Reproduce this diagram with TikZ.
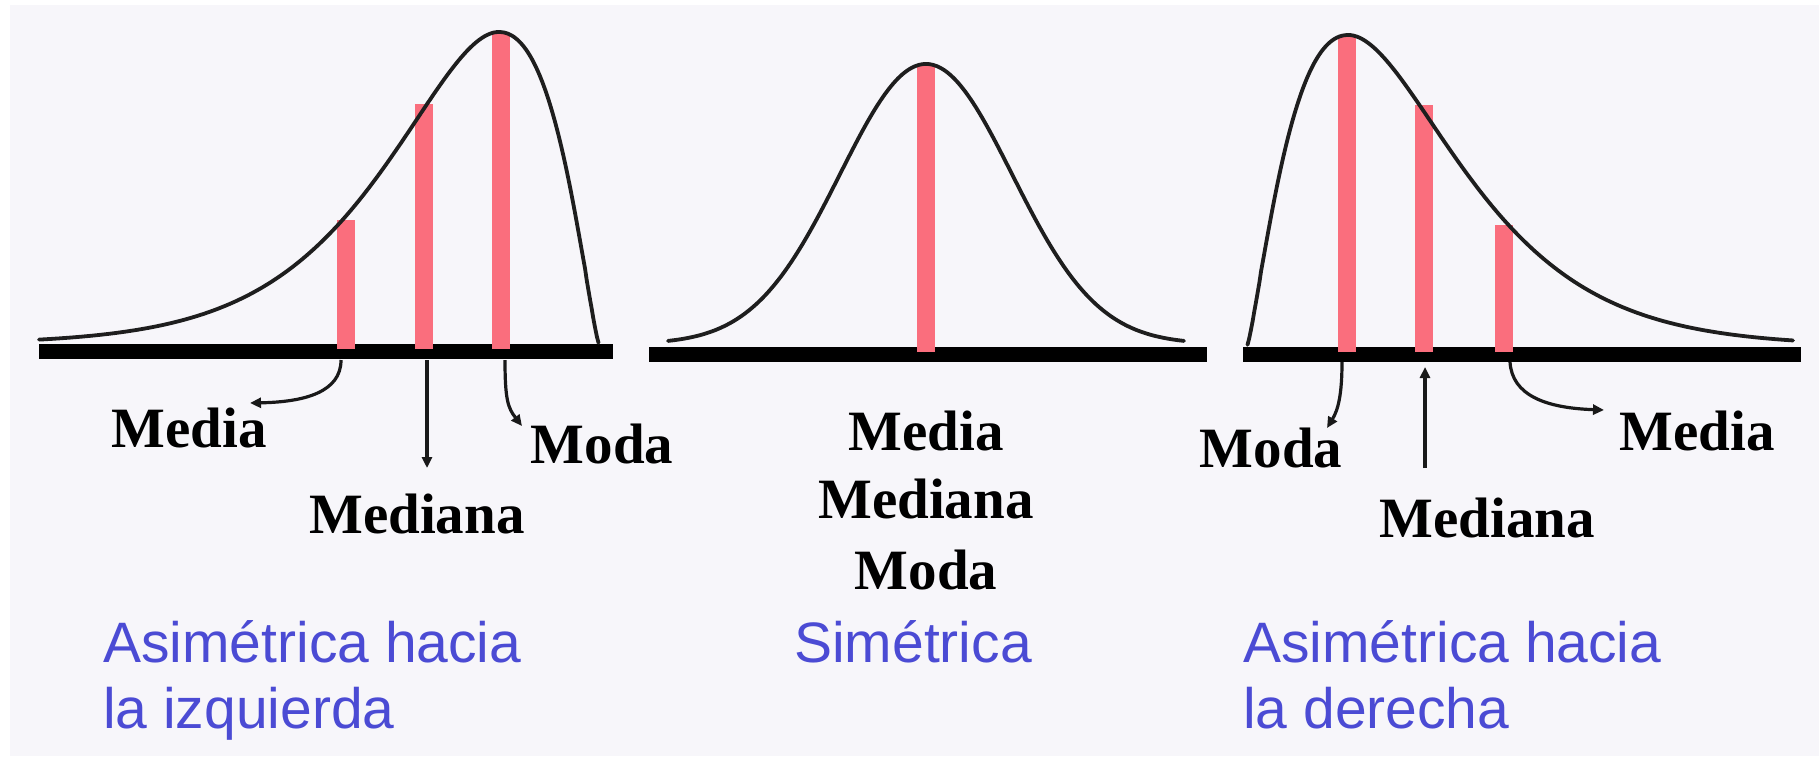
\documentclass[tikz,border=0pt]{standalone}
\usepackage{fontspec}
\setmainfont{Liberation Serif}
\newfontfamily\sansblue{Liberation Sans}
\usetikzlibrary{arrows.meta}
\definecolor{bg}{RGB}{247,246,250}
\definecolor{barred}{RGB}{250,110,125}
\definecolor{tblue}{RGB}{75,75,212}
\definecolor{curvec}{RGB}{30,30,30}
\tikzset{
  axisline/.style={line width=15pt, black},
  bar/.style={line width=18pt, barred},
  curve/.style={line width=3.8pt, curvec, line join=round, line cap=round},
  ptr/.style={line width=3.2pt, black!90, -{Triangle[length=11pt,width=10pt]}},
  lbl/.style={font=\fontsize{57}{69}\selectfont\bfseries, inner sep=0pt, anchor=base},
  title/.style={font=\fontsize{57}{66}\selectfont\sansblue, text=tblue, inner sep=0pt, anchor=base west},
}
\begin{document}
\begin{tikzpicture}[x=1pt,y=-1pt]
\useasboundingbox (0,0) rectangle (1819,756);
\fill[white] (0,0) rectangle (1819,756);
\fill[bg] (10,5) rectangle (1819,756);

% ---------- left panel ----------
\draw[axisline] (39,351) -- (613,351);
\draw[bar] (346,349) -- (346,220);
\draw[bar] (424,349) -- (424,104);
\draw[bar] (501,349) -- (501,33);
\draw[curve]
  plot[domain=0.5:100, samples=60] ({599-\x},{344-312*exp(1.3*(ln(\x/100)-\x/100+1))})
  -- plot[domain=100:560, samples=160] ({599-\x},{344-312*exp(1.48*(ln(\x/100)-\x/100+1))});

\node[lbl] (lMedia) at (189,447) {Media};
\node[lbl] (lMediana) at (417,533) {Mediana};
\node[lbl] (lModa) at (602,463) {Moda};
\coordinate (lMediaS) at (341,360);
\coordinate (lMediaT) at (250,403);
\coordinate (lMedianaS) at (427,360);
\coordinate (lMedianaT) at (427,468);
\coordinate (lModaS) at (505,360);
\coordinate (lModaT) at (522,426);
\draw[ptr] (lMediaS) .. controls (341,392) and (305,402) .. (lMediaT);
\draw[ptr] (lMedianaS) -- (lMedianaT);
\draw[ptr] (lModaS) .. controls (505,400) and (508,408) .. (lModaT);

\node[title] (lTitle1) at (103,662) {Asimétrica hacia};
\node[title] (lTitle2) at (103,728) {la izquierda};

% ---------- centre panel ----------
\draw[axisline] (649,354) -- (1207,354);
\draw[bar] (926,352) -- (926,64);
\draw[curve] plot[domain=-258:258, samples=120, smooth] ({926+\x},{344-280*exp(-0.5*(\x/86)^2)});

\node[lbl] (cMedia) at (926,450) {Media};
\node[lbl] (cMediana) at (926,518) {Mediana};
\node[lbl] (cModa) at (926,589) {Moda};
\node[title, anchor=base] (cTitle) at (913,662) {Simétrica};

% ---------- right panel ----------
\draw[axisline] (1243,354) -- (1801,354);
\draw[bar] (1347,352) -- (1347,36);
\draw[bar] (1424,352) -- (1424,105);
\draw[bar] (1504,352) -- (1504,225);
\draw[curve]
  plot[domain=0.5:101, samples=60] ({1247+\x},{346-311*exp(1.3*(ln(\x/101)-\x/101+1))})
  -- plot[domain=101:546, samples=160] ({1247+\x},{346-311*exp(1.48*(ln(\x/101)-\x/101+1))});

\node[lbl] (rModa) at (1271,467) {Moda};
\node[lbl] (rMediana) at (1487,537) {Mediana};
\node[lbl] (rMedia) at (1697,450) {Media};
\coordinate (rModaS) at (1342,362);
\coordinate (rModaT) at (1327,428);
\coordinate (rMedianaS) at (1425,468);
\coordinate (rMedianaT) at (1425,367);
\coordinate (rMediaS) at (1510,362);
\coordinate (rMediaT) at (1604,410);
\draw[ptr] (rModaS) .. controls (1342,395) and (1338,410) .. (rModaT);
\draw[ptr] (rMedianaS) -- (rMedianaT);
\draw[ptr] (rMediaS) .. controls (1512,395) and (1545,408) .. (rMediaT);

\node[title] (rTitle1) at (1243,662) {Asimétrica hacia};
\node[title] (rTitle2) at (1243,728) {la derecha};
\end{tikzpicture}
\end{document}
